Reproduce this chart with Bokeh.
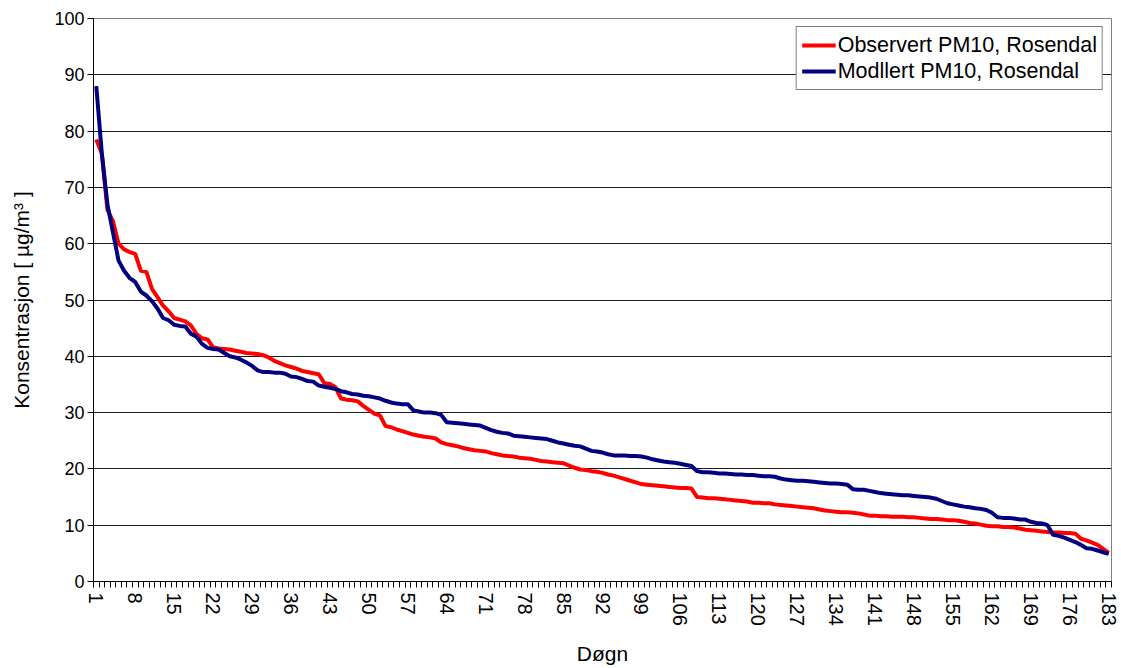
from bokeh.plotting import figure
from bokeh.models import Range1d, FixedTicker, Legend, LegendItem
from bokeh.embed import file_html
from bokeh.resources import INLINE

days = list(range(1, 184))

observert = [
    78.5, 76, 66, 64, 60, 59, 58.5, 58.2, 55.2, 55,
    52, 50.5, 49, 48, 46.8, 46.5, 46.2, 45.5, 44, 43.2,
    43, 41.6, 41.4, 41.3, 41.2, 41, 40.8, 40.6, 40.5, 40.4,
    40.2, 39.8, 39.2, 38.8, 38.4, 38.1, 37.8, 37.4, 37.2, 37,
    36.8, 35.2, 35.1, 34.5, 32.5, 32.3, 32.2, 32.0, 31.2, 30.5,
    29.8, 29.5, 27.6, 27.4, 27.0, 26.7, 26.4, 26.1, 25.9, 25.7,
    25.6, 25.4, 24.7, 24.4, 24.2, 24.0, 23.7, 23.5, 23.3, 23.2,
    23.1, 22.8, 22.6, 22.4, 22.3, 22.2, 22.0, 21.9, 21.8, 21.6,
    21.4, 21.3, 21.2, 21.1, 21.0, 20.6, 20.2, 19.9, 19.8, 19.6,
    19.5, 19.3, 19.0, 18.8, 18.5, 18.2, 17.9, 17.6, 17.3, 17.2,
    17.1, 17.0, 16.9, 16.8, 16.7, 16.6, 16.6, 16.5, 15.0, 14.9,
    14.8, 14.8, 14.7, 14.6, 14.5, 14.4, 14.3, 14.2, 14.0, 14.0,
    13.9, 13.9, 13.7, 13.6, 13.5, 13.4, 13.3, 13.2, 13.1, 13.0,
    12.8, 12.6, 12.5, 12.4, 12.3, 12.3, 12.2, 12.1, 11.9, 11.7,
    11.7, 11.6, 11.6, 11.5, 11.5, 11.5, 11.4, 11.4, 11.3, 11.2,
    11.1, 11.1, 11.0, 10.9, 10.9, 10.8, 10.6, 10.4, 10.3, 10.1,
    9.9, 9.8, 9.8, 9.7, 9.7, 9.6, 9.4, 9.2, 9.1, 9.0,
    8.9, 8.8, 8.7, 8.7, 8.6, 8.6, 8.5, 7.6, 7.3, 6.9,
    6.5, 5.8, 5.1,
]

modellert = [
    88, 76, 67, 62, 57, 55.2, 53.9, 53.2, 51.5, 50.8,
    49.8, 48.5, 46.8, 46.4, 45.6, 45.4, 45.3, 44.0, 43.5, 42.2,
    41.5, 41.3, 41.2, 40.6, 40.0, 39.8, 39.4, 38.9, 38.3, 37.5,
    37.2, 37.2, 37.1, 37.1, 36.9, 36.4, 36.3, 36.0, 35.6, 35.5,
    34.8, 34.6, 34.4, 34.2, 33.8, 33.6, 33.3, 33.2, 33.0, 32.9,
    32.7, 32.5, 32.1, 31.8, 31.6, 31.5, 31.5, 30.4, 30.2, 30.0,
    30.0, 29.9, 29.6, 28.3, 28.2, 28.1, 28.0, 27.9, 27.8, 27.7,
    27.3, 26.9, 26.6, 26.4, 26.3, 25.9, 25.8, 25.7, 25.6, 25.5,
    25.4, 25.3, 25.0, 24.7, 24.5, 24.3, 24.1, 24.0, 23.6, 23.2,
    23.1, 22.9, 22.6, 22.4, 22.4, 22.4, 22.3, 22.3, 22.2, 22.0,
    21.7, 21.5, 21.3, 21.2, 21.1, 20.9, 20.7, 20.5, 19.6, 19.4,
    19.4, 19.3, 19.2, 19.2, 19.1, 19.0, 19.0, 18.9, 18.9, 18.8,
    18.7, 18.7, 18.6, 18.3, 18.1, 18.0, 17.9, 17.9, 17.8, 17.7,
    17.6, 17.5, 17.4, 17.4, 17.3, 17.2, 16.4, 16.3, 16.3, 16.1,
    15.9, 15.7, 15.6, 15.5, 15.4, 15.3, 15.3, 15.2, 15.1, 15.0,
    14.9, 14.7, 14.3, 13.9, 13.7, 13.5, 13.3, 13.2, 13.0, 12.9,
    12.7, 12.2, 11.4, 11.3, 11.3, 11.2, 11.0, 11.0, 10.6, 10.4,
    10.3, 10.0, 8.3, 8.1, 7.8, 7.4, 7.0, 6.5, 5.9, 5.8,
    5.5, 5.2, 4.9,
]

x_tick_days = list(range(1, 184, 7))
x_boundaries = [d - 0.5 for d in days] + [183.5]
y_ticks = list(range(0, 101, 10))

series_names = ["Observert PM10, Rosendal", "Modllert PM10, Rosendal"]
series_colors = ["#FF0000", "#000080"]

FONT = "Liberation Sans"

p = figure(width=1121, height=668, output_backend="svg", toolbar_location=None,
           x_range=Range1d(0.5, 183.5), y_range=Range1d(0, 100),
           min_border_left=93, min_border_right=10, min_border_top=18,
           min_border_bottom=87)

p.background_fill_color = "white"
p.border_fill_color = "white"
p.outline_line_color = "#808080"
p.outline_line_width = 1

r_obs = p.line(days, observert, line_color=series_colors[0], line_width=4)
r_mod = p.line(days, modellert, line_color=series_colors[1], line_width=4)

# x axis
p.xaxis.ticker = FixedTicker(ticks=x_tick_days, minor_ticks=x_boundaries)
p.xaxis.major_tick_out = 0
p.xaxis.major_tick_in = 0
p.xaxis.minor_tick_out = 6
p.xaxis.minor_tick_in = 0
p.xaxis.minor_tick_line_color = "black"
p.xaxis.axis_line_color = "black"
p.xaxis.major_label_orientation = "vertical"
p.xaxis.major_label_standoff = 5
p.xaxis.major_label_text_font = FONT
p.xaxis.major_label_text_font_size = "20px"
p.xaxis.major_label_text_color = "black"
p.xaxis.axis_label = "Døgn"
p.xaxis.axis_label_text_font = FONT
p.xaxis.axis_label_text_font_size = "21px"
p.xaxis.axis_label_text_font_style = "normal"
p.xaxis.axis_label_text_color = "black"
p.xaxis.axis_label_standoff = 13

# y axis
p.yaxis.ticker = FixedTicker(ticks=y_ticks)
p.yaxis.major_tick_out = 6
p.yaxis.major_tick_in = 0
p.yaxis.minor_tick_out = 0
p.yaxis.minor_tick_in = 0
p.yaxis.axis_line_color = "black"
p.yaxis.major_tick_line_color = "black"
p.yaxis.major_label_standoff = 3
p.yaxis.major_label_text_font = FONT
p.yaxis.major_label_text_font_size = "18px"
p.yaxis.major_label_text_color = "black"
p.yaxis.axis_label = "Konsentrasjon [ µg/m³ ]"
p.yaxis.axis_label_text_font = FONT
p.yaxis.axis_label_text_font_size = "21px"
p.yaxis.axis_label_text_font_style = "normal"
p.yaxis.axis_label_text_color = "black"
p.yaxis.axis_label_standoff = 18

p.xgrid.grid_line_color = None
p.ygrid.ticker = FixedTicker(ticks=y_ticks)
p.ygrid.grid_line_color = "#1a1a1a"
p.ygrid.grid_line_width = 1

legend = Legend(items=[LegendItem(label=series_names[0], renderers=[r_obs]),
                       LegendItem(label=series_names[1], renderers=[r_mod])],
                location="top_right")
legend.margin = 8
legend.padding = 5
legend.spacing = 0
legend.glyph_width = 34
legend.glyph_height = 26
legend.label_height = 26
legend.label_standoff = 2
legend.label_text_font = FONT
legend.label_text_font_size = "21.5px"
legend.label_text_color = "black"
legend.border_line_color = "black"
legend.border_line_width = 1
legend.background_fill_color = "white"
legend.background_fill_alpha = 1.0
p.add_layout(legend, "center")

open("out.html", "w").write(file_html(p, INLINE))
